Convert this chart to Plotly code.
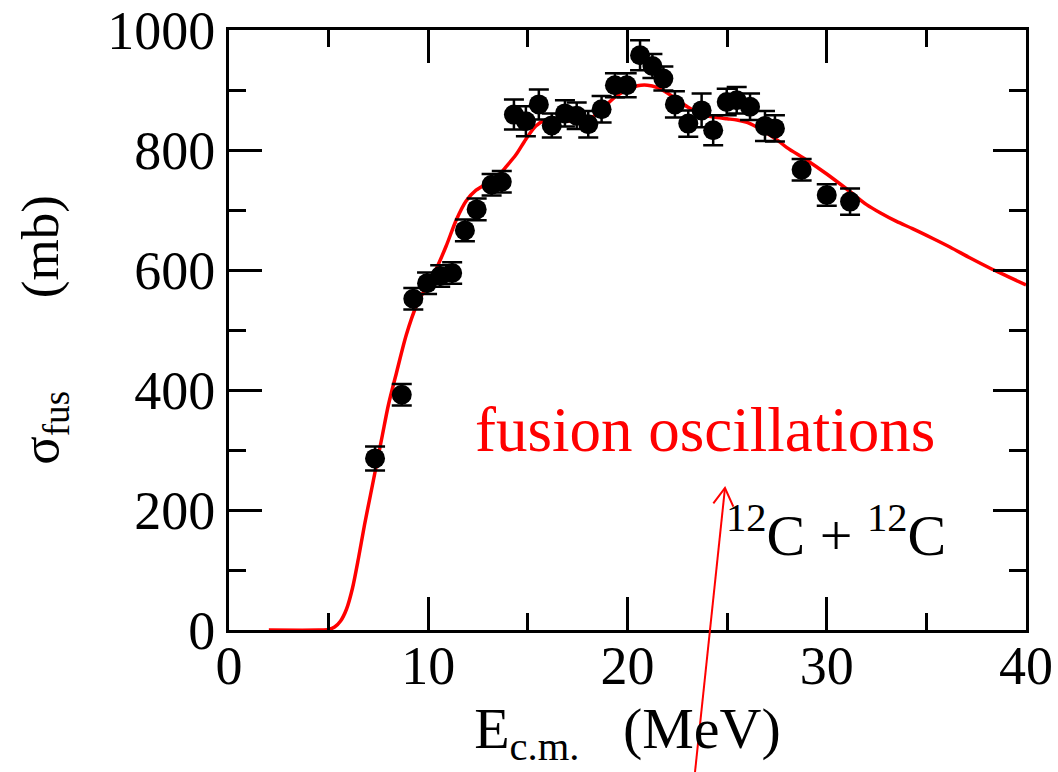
import plotly.graph_objects as go

# Experimental data (E_cm in MeV, sigma_fus in mb, error in mb)
exp_e = [7.33, 8.67, 9.25, 9.94, 10.6, 11.2, 11.84, 12.43, 13.18, 13.69,
         14.3, 14.9, 15.55, 16.2, 16.86, 17.45, 18.03, 18.7, 19.37, 19.96,
         20.63, 21.25, 21.8, 22.38, 23.05, 23.72, 24.3, 24.98, 25.48, 26.15,
         26.9, 27.4, 28.74, 30.0, 31.17]
exp_sigma = [286, 392, 552, 578, 590, 595, 666, 701, 742, 747,
             859, 848, 876, 841, 861, 857, 843, 868, 908, 908,
             958, 940, 919, 876, 844, 866, 833, 880, 883, 872,
             840, 836, 767, 725, 714]
exp_err = [20, 18, 18, 18, 18, 18, 18, 18, 18, 18,
           25, 25, 25, 20, 22, 22, 22, 22, 20, 20,
           25, 20, 20, 22, 22, 28, 25, 22, 22, 22,
           25, 22, 18, 18, 22]

# Theoretical curve
th_e = [2.0, 4.5, 5.0, 5.3, 5.6, 5.9, 6.2, 6.5, 6.8, 7.1, 7.4, 7.7, 8.0,
        8.4, 8.9, 9.4, 9.9, 10.4, 10.9, 11.4, 11.9, 12.4, 12.9, 13.4, 13.9,
        14.4, 14.9, 15.4, 15.9, 16.4, 16.9, 17.4, 17.9, 18.4, 18.9, 19.4,
        19.9, 20.5, 21.0, 21.5, 22.0, 22.5, 23.0, 23.5, 24.0, 24.5, 25.0,
        25.5, 26.0, 26.5, 27.0, 27.5, 28.0, 29.0, 30.0, 31.0, 32.0, 32.7,
        33.5, 34.3, 35.3, 36.2, 37.2, 38.2, 39.1, 40.0]
th_sigma = [0, 0, 1, 5, 15, 35, 70, 120, 175, 225, 275, 325, 375,
            428, 492, 540, 572, 602, 640, 683, 715, 733, 743, 753, 772,
            792, 818, 840, 850, 851, 849, 847, 850, 858, 874, 889,
            899, 907, 908, 904, 895, 884, 872, 863, 857, 854, 852,
            850, 846, 838, 828, 817, 804, 783, 760, 735, 709, 695,
            681, 669, 653, 638, 620, 603, 589, 575]

x_ticks = [0, 10, 20, 30, 40]
y_ticks = [0, 200, 400, 600, 800, 1000]

FONT = "Liberation Serif"

fig = go.Figure()
fig.add_trace(go.Scatter(
    x=th_e, y=th_sigma, mode="lines",
    line=dict(color="#ff0000", width=3.5, shape="spline", smoothing=0.8),
    showlegend=False, hoverinfo="skip"))
fig.add_trace(go.Scatter(
    x=exp_e, y=exp_sigma, mode="markers",
    marker=dict(color="black", size=20),
    error_y=dict(type="data", array=exp_err, color="black", thickness=2.5, width=10),
    showlegend=False))

axis_common = dict(
    showline=True, linecolor="black", linewidth=3, mirror="allticks",
    ticks="inside", ticklen=33, tickwidth=2.5, tickcolor="black",
    showgrid=False, zeroline=False, automargin=False,
    tickfont=dict(family=FONT, size=54, color="black"),
)

fig.update_xaxes(range=[0, 40], tickvals=x_ticks, ticktext=[str(v) for v in x_ticks],
                 minor=dict(ticks="inside", ticklen=17, tickwidth=2.5, tickcolor="black", dtick=5, tick0=0),
                 ticklabelstandoff=-14,
                 title=dict(text="E<sub>c.m.</sub>&nbsp;&nbsp;&nbsp;(MeV)",
                            font=dict(family=FONT, size=58, color="black"), standoff=0),
                 **axis_common)
fig.update_yaxes(range=[0, 1000], tickvals=y_ticks, ticktext=[str(v) for v in y_ticks],
                 minor=dict(ticks="inside", ticklen=17, tickwidth=2.5, tickcolor="black", dtick=100, tick0=0),
                 title=dict(text="σ<sub>fus</sub>&nbsp;&nbsp;&nbsp;&nbsp;&nbsp;&nbsp;&nbsp;(mb)",
                            font=dict(family=FONT, size=53, color="black"), standoff=32),
                 **axis_common)

fig.add_annotation(x=0.597, y=0.272, xref="paper", yref="paper", text="fusion oscillations",
                   showarrow=False, font=dict(family=FONT, size=63, color="#ff0000"))
fig.add_annotation(x=0.902, y=0.10, xref="paper", yref="paper", xanchor="right",
                   text="<sup>12</sup>C + <sup>12</sup>C",
                   showarrow=False, font=dict(family=FONT, size=58, color="black"))

# Arrow (line + open head) in paper coordinates
fig.add_shape(type="line", xref="paper", yref="paper", x0=0.5847, y0=-0.2367, x1=0.6223, y1=0.2367,
              line=dict(color="#ff0000", width=2))
fig.add_shape(type="path", xref="paper", yref="paper",
              path="M 0.6077 0.211 L 0.6223 0.2367 L 0.6328 0.2055",
              line=dict(color="#ff0000", width=2))

fig.update_layout(
    width=1058, height=772,
    margin=dict(l=229, r=32, t=30, b=142, autoexpand=False),
    plot_bgcolor="white", paper_bgcolor="white",
    font=dict(family=FONT, color="black"),
)

fig.write_html("out.html")
